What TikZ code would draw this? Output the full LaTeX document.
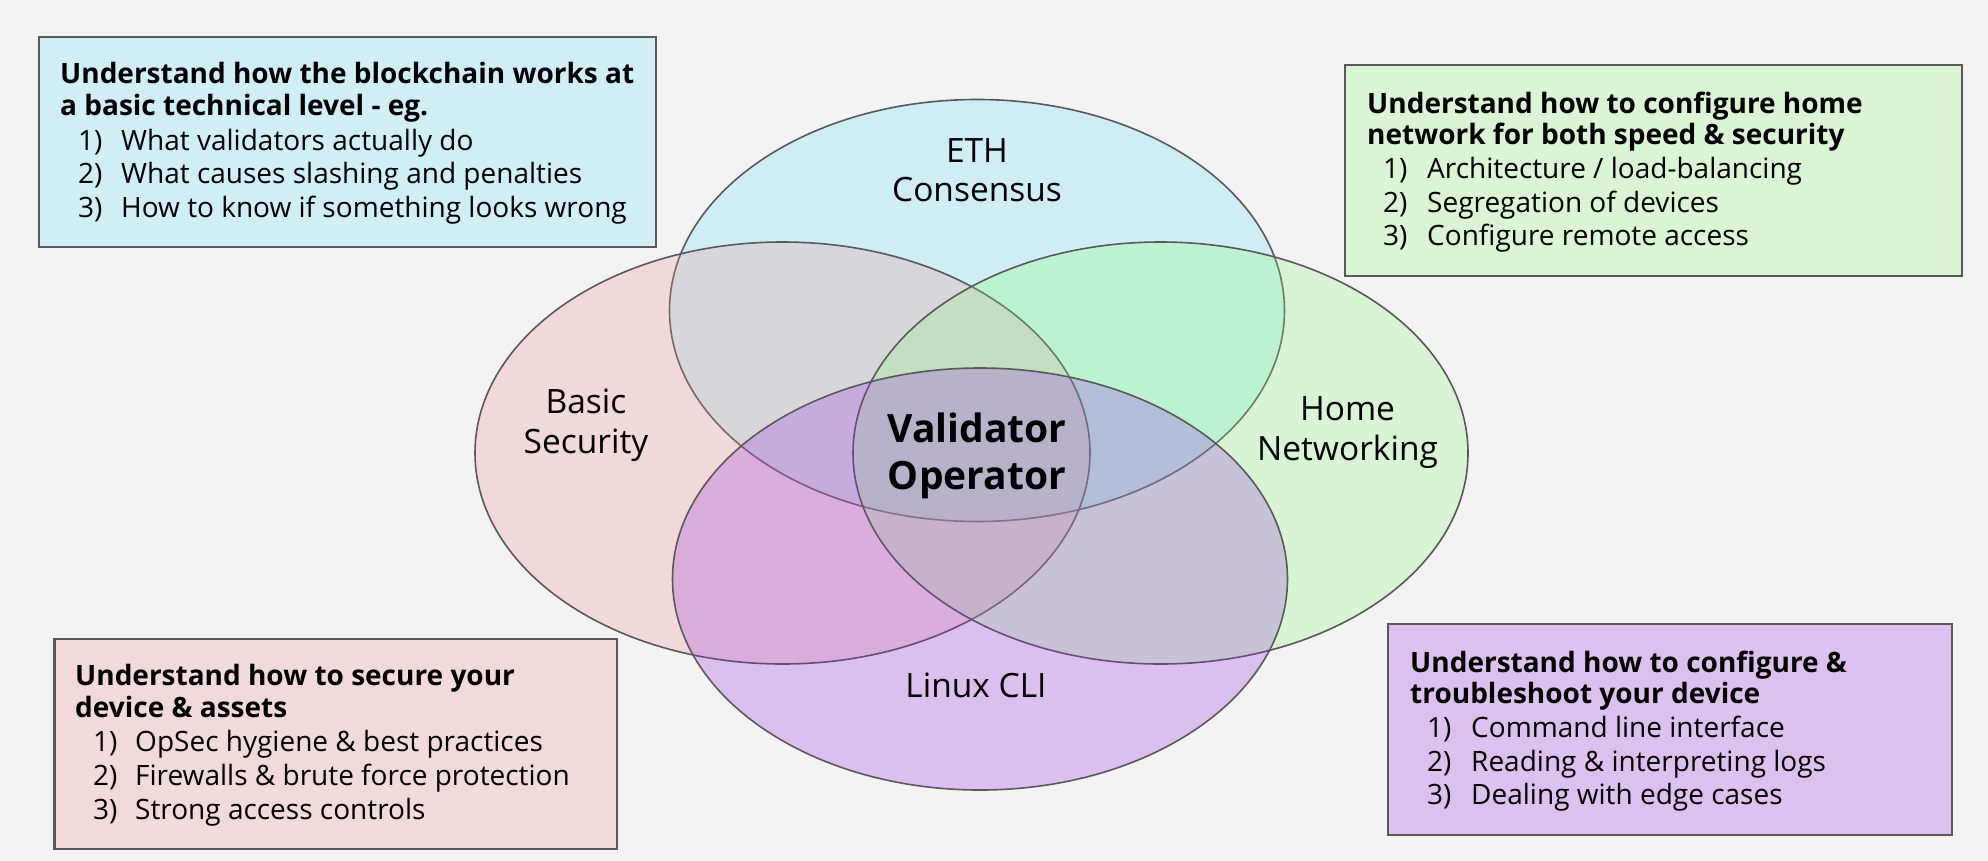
\documentclass[tikz,border=0pt]{standalone}
\usepackage{fontspec}
\setmainfont{Open Sans}
\usetikzlibrary{shapes.geometric}
\definecolor{bg}{RGB}{243,243,243}
\definecolor{ethc}{RGB}{103,227,247}
\definecolor{secc}{RGB}{239,143,143}
\definecolor{netc}{RGB}{139,251,119}
\definecolor{clic}{RGB}{151,43,231}
\definecolor{ethbox}{RGB}{208,239,244}
\definecolor{secbox}{RGB}{242,218,218}
\definecolor{netbox}{RGB}{217,245,212}
\definecolor{clibox}{RGB}{220,193,240}
\definecolor{edge}{RGB}{89,89,89}
\begin{document}
\begin{tikzpicture}[x=1pt,y=-1pt,
  venn/.style={ellipse, draw=edge, line width=1.6pt, fill opacity=0.25, minimum width=615pt, minimum height=422pt, inner sep=0pt, outer sep=0pt},
  infobox/.style={rectangle, draw=edge, line width=2.4pt, inner sep=0pt},
  head/.style={anchor=base west, inner sep=0pt, font=\fontsize{28}{33}\selectfont\bfseries},
  item/.style={anchor=base west, inner sep=0pt, font=\fontsize{28}{33}\selectfont},
  lbl/.style={anchor=base, inner sep=0pt, font=\fontsize{33.5}{40}\selectfont},
  core/.style={anchor=base, inner sep=0pt, font=\fontsize{39}{46}\selectfont\bfseries}]
\fill[bg] (0,0) rectangle (1988,860);
\useasboundingbox (0,0) rectangle (1988,860);

% Venn ellipses
\node[venn, fill=ethc] (eth) at (977,310.5) {};
\node[venn, fill=secc] (sec) at (782.5,453) {};
\node[venn, fill=netc] (net) at (1160.5,453) {};
\node[venn, fill=clic] (cli) at (980,579) {};

% ellipse labels
\node[lbl] (ethl1) at (977,162.6) {ETH};
\node[lbl] (ethl2) at (977,201.7) {Consensus};
\node[lbl] (secl1) at (586,413) {Basic};
\node[lbl] (secl2) at (586,453) {Security};
\node[lbl] (netl1) at (1347.5,420) {Home};
\node[lbl] (netl2) at (1347.5,460) {Networking};
\node[lbl] (clil1) at (976,697.5) {Linux CLI};
\node[core] (core1) at (977,442.7) {Validator};
\node[core] (core2) at (977,489) {Operator};

% info boxes
\node[infobox, fill=ethbox, minimum width=617pt, minimum height=210pt] (b1) at (347.5,142) {};
\node[infobox, fill=netbox, minimum width=617pt, minimum height=211pt] (b2) at (1653.5,170.5) {};
\node[infobox, fill=secbox, minimum width=562.5pt, minimum height=210pt] (b3) at (335.75,744) {};
\node[infobox, fill=clibox, minimum width=564pt, minimum height=211pt] (b4) at (1670,729.5) {};

% box 1
\node[head] (b1h1) at (60,83) {Understand how the blockchain works at};
\node[head] (b1h2) at (60,115) {a basic technical level - eg.};
\node[item] (b1n1) at (78,150) {1)};
\node[item] (b1i1) at (121,150) {What validators actually do};
\node[item] (b1n2) at (78,183) {2)};
\node[item] (b1i2) at (121,183) {What causes slashing and penalties};
\node[item] (b1n3) at (78,217) {3)};
\node[item] (b1i3) at (121,217) {How to know if something looks wrong};

% box 2
\node[head] (b2h1) at (1367,113) {Understand how to configure home};
\node[head] (b2h2) at (1367,144) {network for both speed \& security};
\node[item] (b2n1) at (1383,178) {1)};
\node[item] (b2i1) at (1427,178) {Architecture / load-balancing};
\node[item] (b2n2) at (1383,212) {2)};
\node[item] (b2i2) at (1427,212) {Segregation of devices};
\node[item] (b2n3) at (1383,245) {3)};
\node[item] (b2i3) at (1427,245) {Configure remote access};

% box 3
\node[head] (b3h1) at (75,685) {Understand how to secure your};
\node[head] (b3h2) at (75,717) {device \& assets};
\node[item] (b3n1) at (93,751) {1)};
\node[item] (b3i1) at (135,751) {OpSec hygiene \& best practices};
\node[item] (b3n2) at (93,785) {2)};
\node[item] (b3i2) at (135,785) {Firewalls \& brute force protection};
\node[item] (b3n3) at (93,819) {3)};
\node[item] (b3i3) at (135,819) {Strong access controls};

% box 4
\node[head] (b4h1) at (1410,672) {Understand how to configure \&};
\node[head] (b4h2) at (1410,703) {troubleshoot your device};
\node[item] (b4n1) at (1427,737) {1)};
\node[item] (b4i1) at (1471,737) {Command line interface};
\node[item] (b4n2) at (1427,771) {2)};
\node[item] (b4i2) at (1471,771) {Reading \& interpreting logs};
\node[item] (b4n3) at (1427,804) {3)};
\node[item] (b4i3) at (1471,804) {Dealing with edge cases};
\end{tikzpicture}
\end{document}
